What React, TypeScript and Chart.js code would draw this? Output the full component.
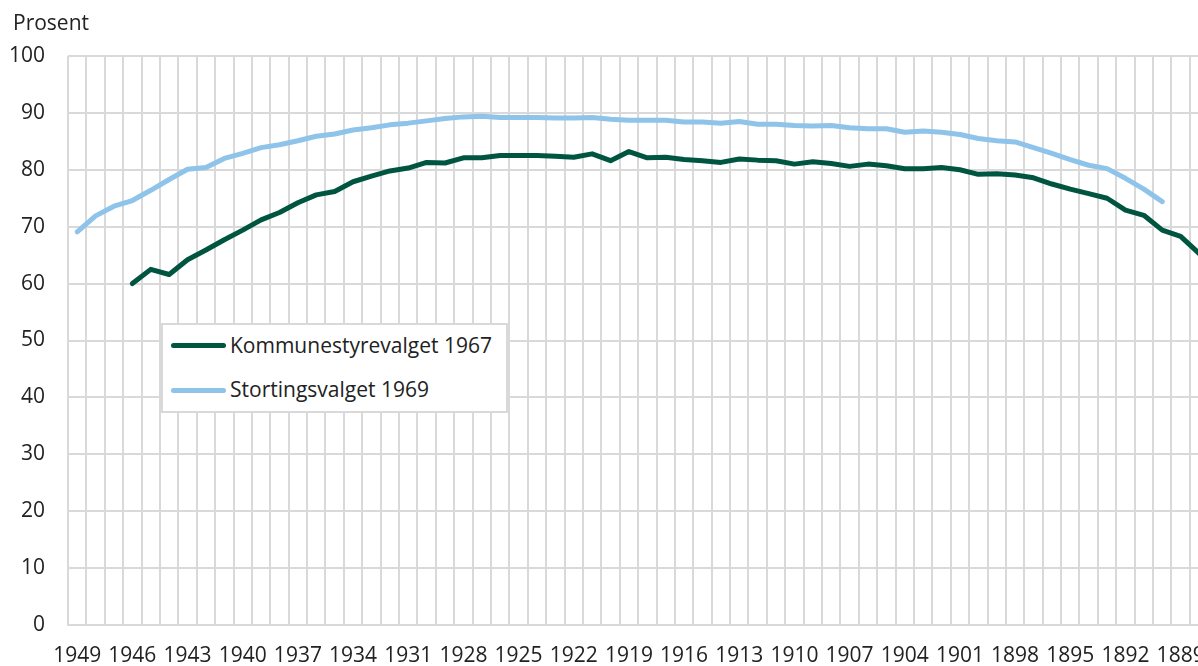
import React, { useEffect, useRef } from "react";
import { Chart, registerables } from "chart.js";

Chart.register(...registerables);

// Categories: birth year (descending)
const years: number[] = [
  1949, 1948, 1947, 1946, 1945, 1944, 1943, 1942, 1941, 1940,
  1939, 1938, 1937, 1936, 1935, 1934, 1933, 1932, 1931, 1930,
  1929, 1928, 1927, 1926, 1925, 1924, 1923, 1922, 1921, 1920,
  1919, 1918, 1917, 1916, 1915, 1914, 1913, 1912, 1911, 1910,
  1909, 1908, 1907, 1906, 1905, 1904, 1903, 1902, 1901, 1900,
  1899, 1898, 1897, 1896, 1895, 1894, 1893, 1892, 1891, 1890,
  1889, 1888, 1887, 1886,
];

// Kommunestyrevalget 1967 (percent)
const kommunestyrevalget1967: (number | null)[] = [
  null, null, null, 60.0, 62.5, 61.6, 64.2, 65.9, 67.7, 69.4,
  71.2, 72.5, 74.2, 75.6, 76.2, 77.9, 78.9, 79.8, 80.3, 81.3,
  81.2, 82.1, 82.1, 82.5, 82.5, 82.5, 82.4, 82.2, 82.8, 81.6,
  83.2, 82.1, 82.2, 81.8, 81.6, 81.3, 81.9, 81.7, 81.6, 81.0,
  81.4, 81.1, 80.6, 81.0, 80.7, 80.2, 80.2, 80.4, 80.0, 79.2,
  79.3, 79.1, 78.6, 77.5, 76.6, 75.8, 75.0, 72.9, 72.0, 69.4,
  68.3, 65.3, 62.0, 59.5,
];

// Stortingsvalget 1969 (percent)
const stortingsvalget1969: (number | null)[] = [
  69.1, 71.9, 73.6, 74.6, 76.4, 78.3, 80.1, 80.4, 82.0, 82.9,
  83.9, 84.4, 85.1, 85.9, 86.3, 87.0, 87.4, 87.9, 88.2, 88.6,
  89.0, 89.3, 89.4, 89.2, 89.2, 89.2, 89.1, 89.1, 89.2, 88.9,
  88.7, 88.7, 88.7, 88.4, 88.4, 88.2, 88.5, 88.0, 88.0, 87.8,
  87.7, 87.8, 87.4, 87.2, 87.2, 86.6, 86.8, 86.6, 86.2, 85.5,
  85.1, 84.9, 83.9, 82.9, 81.8, 80.8, 80.2, 78.5, 76.6, 74.4,
  null, null, null, null,
];

const seriesNames = ["Kommunestyrevalget 1967", "Stortingsvalget 1969"];
const seriesColors = ["#005541", "#8ec3ea"];
const yTicks = { min: 0, max: 100, step: 10 };
const axisTitle = "Prosent";

const FONT = '"Open Sans", "Noto Sans", sans-serif';
const GRID = "#d9d9d9";
const TEXT = "#222222";

export default function App() {
  const ref = useRef<HTMLCanvasElement | null>(null);

  useEffect(() => {
    let chart: Chart | null = null;
    let cancelled = false;
    const make = () => {
      if (cancelled || !ref.current) return;
      chart = new Chart(ref.current, {
        type: "line",
        data: {
          labels: years.map(String),
          datasets: [
            {
              label: seriesNames[0],
              data: kommunestyrevalget1967,
              borderColor: seriesColors[0],
              backgroundColor: seriesColors[0],
            },
            {
              label: seriesNames[1],
              data: stortingsvalget1969,
              borderColor: seriesColors[1],
              backgroundColor: seriesColors[1],
            },
          ],
        },
        options: {
          animation: false,
          responsive: true,
          maintainAspectRatio: false,
          layout: { autoPadding: false, padding: { left: 9, top: 56, right: 55, bottom: 0 } },
          elements: {
            point: { radius: 0, hoverRadius: 0 },
            line: {
              tension: 0,
              borderWidth: 5,
              borderCapStyle: "round",
              borderJoinStyle: "round",
            },
          },
          plugins: {
            legend: { display: false },
            tooltip: { enabled: false },
            title: { display: false },
          },
          scales: {
            x: {
              offset: true,
              grid: { offset: true, color: GRID, lineWidth: 2, drawTicks: false },
              border: { color: GRID, width: 2 },
              afterFit: (s: any) => { s.height = 41; },
              ticks: {
                autoSkip: false,
                maxRotation: 0,
                minRotation: 0,
                padding: 18,
                color: TEXT,
                font: { family: FONT, size: 21 },
                callback: (_v: any, i: number) => (i % 3 === 0 ? String(years[i]) : ""),
              },
            },
            y: {
              min: yTicks.min,
              max: yTicks.max,
              grid: { color: GRID, lineWidth: 2, drawTicks: false },
              border: { display: false },
              afterFit: (s: any) => { s.width = 59; },
              ticks: {
                stepSize: yTicks.step,
                padding: 23,
                color: TEXT,
                font: { family: FONT, size: 21 },
              },
            },
          },
        },
      });
    };
    if ((document as any).fonts && (document as any).fonts.load) {
      (document as any).fonts.load('21px "Open Sans"').then(make, make);
    } else {
      make();
    }
    return () => {
      cancelled = true;
      if (chart) chart.destroy();
    };
  }, []);

  const legendLine = (color: string, top: number) => (
    <div
      style={{
        position: "absolute",
        left: 171,
        top: top - 2.5,
        width: 55,
        height: 5,
        borderRadius: 3,
        background: color,
      }}
    />
  );

  return (
    <div
      style={{
        position: "absolute",
        left: 0,
        top: 0,
        width: 1198,
        height: 666,
        overflow: "hidden",
        background: "#ffffff",
        fontFamily: FONT,
        color: TEXT,
      }}
    >
      <div style={{ position: "absolute", left: 0, top: 0, width: 1300, height: 666 }}>
        <canvas ref={ref} />
      </div>
      <div style={{ position: "absolute", left: 13, top: 12, fontSize: 21, lineHeight: 1, whiteSpace: "nowrap" }}>
        {axisTitle}
      </div>
      <div
        style={{
          position: "absolute",
          left: 161,
          top: 323,
          width: 343,
          height: 86,
          border: `2px solid ${GRID}`,
          background: "#ffffff",
        }}
      />
      {legendLine(seriesColors[0], 345)}
      {legendLine(seriesColors[1], 390)}
      <div style={{ position: "absolute", left: 230, top: 335, fontSize: 21, lineHeight: 1, whiteSpace: "nowrap" }}>
        {seriesNames[0]}
      </div>
      <div style={{ position: "absolute", left: 230, top: 379, fontSize: 21, lineHeight: 1, whiteSpace: "nowrap" }}>
        {seriesNames[1]}
      </div>
    </div>
  );
}
